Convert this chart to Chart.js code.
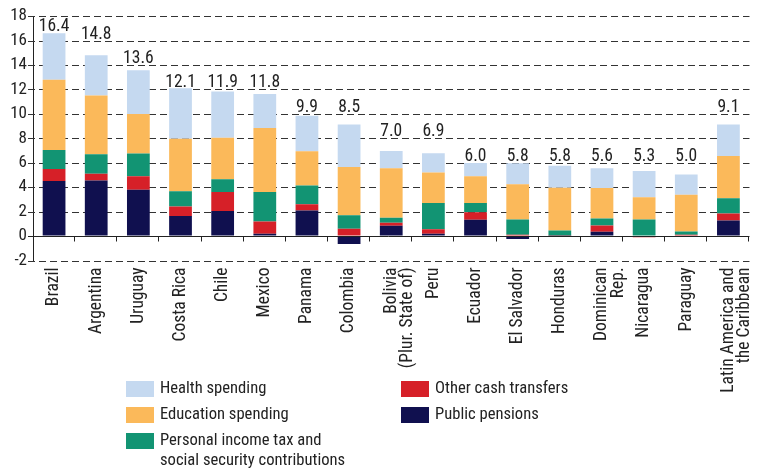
<!DOCTYPE html>
<html>
<head>
<meta charset="utf-8">
<script src="https://cdn.jsdelivr.net/npm/chart.js@4.4.1/dist/chart.umd.min.js"></script>
<style>
  body { margin: 0; background: #fff; }
  #wrap { position: relative; width: 768px; height: 474px; }
  #legend {
    position: absolute; left: 126px; top: 380px;
    display: grid; grid-template-columns: 275px auto; grid-template-rows: 26px 26px auto;
    grid-auto-flow: column;
    font-family: 'Roboto Condensed', Roboto, sans-serif;
    font-size: 16.6px; color: #222;
  }
  .item { display: flex; align-items: flex-start; }
  .box { width: 28px; height: 16px; margin-top: 1px; flex: none; }
  .txt { margin-left: 6px; line-height: 20px; white-space: pre-line; margin-top: -2px; }
</style>
</head>
<body>
<div id="wrap">
  <canvas id="chart" width="768" height="474"></canvas>
  <div id="legend"></div>
</div>
<script>
const FONT = "'Roboto Condensed', Roboto, sans-serif";

const countries = ['Brazil', 'Argentina', 'Uruguay', 'Costa Rica', 'Chile', 'Mexico', 'Panama', 'Colombia',
    ['Bolivia', '(Plur. State of)'], 'Peru', 'Ecuador', 'El Salvador', 'Honduras', ['Dominican', 'Rep.'],
    'Nicaragua', 'Paraguay', ['Latin America and', 'the Caribbean']];

const totals = [16.4, 14.8, 13.6, 12.1, 11.9, 11.8, 9.9, 8.5, 7.0, 6.9, 6.0, 5.8, 5.8, 5.6, 5.3, 5.0, 9.1];

const publicPensions = [4.5, 4.55, 3.8, 1.65, 2.05, 0.2, 2.1, -0.65, 0.85, 0.2, 1.33, -0.25, 0.02, 0.35, -0.05, -0.08, 1.28];
const otherCash = [1.0, 0.55, 1.1, 0.77, 1.55, 1.0, 0.5, 0.6, 0.25, 0.35, 0.62, 0.1, 0.02, 0.52, -0.05, 0.1, 0.57];
const incomeTax = [1.55, 1.6, 1.85, 1.25, 1.05, 2.4, 1.55, 1.1, 0.4, 2.15, 0.75, 1.25, 0.42, 0.57, 1.36, 0.28, 1.25];
const education = [5.75, 4.8, 3.25, 4.3, 3.4, 5.25, 2.8, 3.95, 4.05, 2.5, 2.2, 2.9, 3.5, 2.5, 1.82, 3.0, 3.45];
const health = [3.8, 3.3, 3.57, 4.13, 3.79, 2.79, 2.9, 3.48, 1.42, 1.58, 1.09, 1.71, 1.79, 1.62, 2.14, 1.66, 2.58];

// legend reads health/education/tax down the first column, then the other two
const legendOrder = [4, 3, 2, 1, 0];

// dashed horizontal gridlines, drawn from the y scale's own ticks
const dashedGrid = {
    id: 'dashedGrid',
    beforeDatasetsDraw(chart) {
        const { ctx, chartArea, scales: { y } } = chart;
        ctx.save();
        ctx.strokeStyle = '#333';
        ctx.lineWidth = 1;
        ctx.setLineDash([7, 4]);
        y.ticks.forEach(t => {
            if (t.value === 0) return;
            const py = Math.round(y.getPixelForValue(t.value)) + 0.5;
            ctx.beginPath();
            ctx.moveTo(chartArea.left - 5, py);
            ctx.lineTo(chartArea.right, py);
            ctx.stroke();
        });
        ctx.restore();
    }
};

const zeroLine = {
    id: 'zeroLine',
    afterDatasetsDraw(chart) {
        const { ctx, chartArea, scales: { x, y } } = chart;
        const y0 = Math.round(y.getPixelForValue(0)) + 0.5;
        const half = (x.getPixelForValue(1) - x.getPixelForValue(0)) / 2;
        ctx.save();
        ctx.strokeStyle = '#222';
        ctx.lineWidth = 1;
        ctx.beginPath();
        ctx.moveTo(chartArea.left - 5, y0);
        ctx.lineTo(chartArea.right, y0);
        for (let i = 0; i < countries.length; i++) {
            const bx = Math.round(x.getPixelForValue(i) + half) - 0.5;
            ctx.moveTo(bx, y0);
            ctx.lineTo(bx, y0 + 5);
        }
        ctx.stroke();
        ctx.restore();
    }
};

const totalLabels = {
    id: 'totalLabels',
    afterDatasetsDraw(chart) {
        const { ctx, scales: { x, y } } = chart;
        ctx.save();
        ctx.font = '17.5px ' + FONT;
        ctx.fillStyle = '#222';
        ctx.textAlign = 'center';
        ctx.textBaseline = 'alphabetic';
        totals.forEach((t, i) => {
            let top = 0;
            chart.data.datasets.forEach(ds => { if (ds.data[i] > 0) top += ds.data[i]; });
            // labels sit on the next gridline above the bar when there is room
            const level = Math.ceil((top - 0.15) / 2) * 2;
            const py = level < y.max ? y.getPixelForValue(level) - 2 : y.getPixelForValue(top) - 2;
            ctx.fillText(t.toFixed(1), x.getPixelForValue(i), py);
        });
        ctx.restore();
    }
};

const htmlLegend = {
    id: 'htmlLegend',
    afterUpdate(chart) {
        const el = document.getElementById('legend');
        el.innerHTML = '';
        legendOrder.forEach(idx => {
            const ds = chart.data.datasets[idx];
            const item = document.createElement('div');
            item.className = 'item';
            const box = document.createElement('span');
            box.className = 'box';
            box.style.background = ds.backgroundColor;
            const txt = document.createElement('span');
            txt.className = 'txt';
            txt.textContent = ds.label;
            item.appendChild(box);
            item.appendChild(txt);
            el.appendChild(item);
        });
    }
};

new Chart(document.getElementById('chart'), {
    type: 'bar',
    data: {
        labels: countries,
        datasets: [
            { label: 'Public pensions', data: publicPensions, backgroundColor: '#10104f' },
            { label: 'Other cash transfers', data: otherCash, backgroundColor: '#d62028' },
            { label: 'Personal income tax and\nsocial security contributions', data: incomeTax, backgroundColor: '#129473' },
            { label: 'Education spending', data: education, backgroundColor: '#fbb95a' },
            { label: 'Health spending', data: health, backgroundColor: '#c5d9f0' }
        ]
    },
    options: {
        responsive: false,
        animation: false,
        layout: { padding: { top: 15, right: 1.5, bottom: 0, left: 0 } },
        datasets: {
            bar: { barPercentage: 0.54, categoryPercentage: 1, borderWidth: 0 }
        },
        plugins: {
            legend: { display: false },
            tooltip: { enabled: false }
        },
        scales: {
            x: {
                stacked: true,
                grid: { display: false, drawTicks: false },
                border: { display: false },
                ticks: {
                    autoSkip: false,
                    minRotation: 90,
                    maxRotation: 90,
                    padding: 7,
                    color: '#222',
                    font: { family: FONT, size: 17.5, lineHeight: 0.93 }
                },
                afterFit(scale) { scale.height = 213.5; }
            },
            y: {
                stacked: true,
                min: -2,
                max: 18,
                ticks: {
                    stepSize: 2,
                    padding: 6,
                    color: '#222',
                    font: { family: FONT, size: 17 }
                },
                grid: {
                    drawOnChartArea: false,
                    drawTicks: false,
                    tickLength: 5
                },
                border: { display: true, color: '#222', width: 1 },
                afterFit(scale) { scale.width = 33; }
            }
        }
    },
    plugins: [dashedGrid, zeroLine, totalLabels, htmlLegend]
});
</script>
</body>
</html>
